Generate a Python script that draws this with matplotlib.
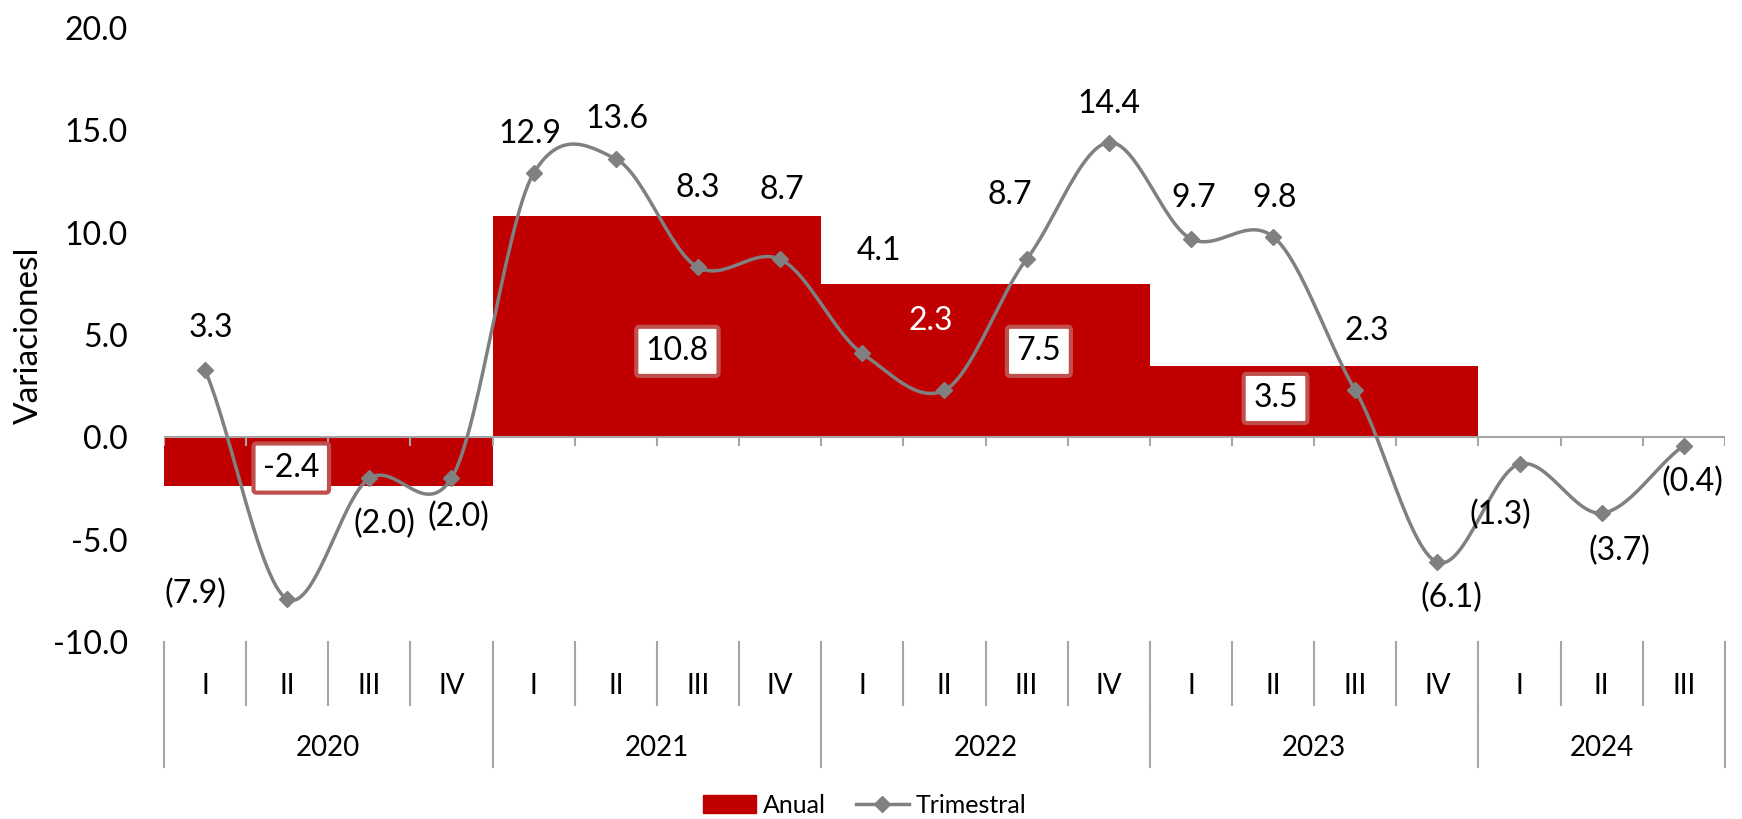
import matplotlib
matplotlib.use('Agg')
import matplotlib.pyplot as plt
import matplotlib.transforms as mtransforms
from matplotlib.lines import Line2D
from matplotlib.patches import Patch
import numpy as np

plt.rcParams['font.family'] = ['Lato', 'DejaVu Sans']
plt.rcParams['axes.unicode_minus'] = False

# quarterly and annual variations
years = ['2020', '2021', '2022', '2023', '2024']
quarters = ['I', 'II', 'III', 'IV', 'I', 'II', 'III', 'IV', 'I', 'II', 'III', 'IV',
            'I', 'II', 'III', 'IV', 'I', 'II', 'III']
quarters_per_year = [4, 4, 4, 4, 3]
trimestral = [3.3, -7.9, -2.0, -2.0, 12.9, 13.6, 8.3, 8.7, 4.1, 2.3, 8.7, 14.4,
              9.7, 9.8, 2.3, -6.1, -1.3, -3.7, -0.4]
anual = [-2.4, 10.8, 7.5, 3.5]

# label offsets (points) for the quarterly labels
lbl_off = [(4, 30), (-66, 4), (11, -33), (5, -28), (-3, 28), (1, 29), (0, 57),
           (1, 50), (12, 74), (-10, 50), (-12, 46), (0, 28), (2, 29), (1, 28),
           (8, 43), (10, -26), (-14, -37), (13, -27), (6, -26)]
# positions (data coords) of the boxed annual labels
anual_lbl_pos = [(1.05, -1.5), (5.75, 4.2), (10.15, 4.2), (13.03, 1.9)]

RED = '#C00000'
GREY = '#808080'
SEP = '#A6A6A6'
FS = 23


def smooth(y, n=30, k=0.85):
    # cubic hermite with damped catmull-rom tangents for the smoothed line
    y = np.asarray(y, float)
    m = np.zeros_like(y)
    m[1:-1] = k * (y[2:] - y[:-2]) / 2
    m[0] = k * (y[1] - y[0])
    m[-1] = k * (y[-1] - y[-2])
    xs, ys = [], []
    for i in range(len(y) - 1):
        t = np.linspace(0, 1, n, endpoint=False)
        h00 = 2 * t**3 - 3 * t**2 + 1
        h10 = t**3 - 2 * t**2 + t
        h01 = -2 * t**3 + 3 * t**2
        h11 = t**3 - t**2
        xs.append(i + t)
        ys.append(h00 * y[i] + h10 * m[i] + h01 * y[i + 1] + h11 * m[i + 1])
    xs.append([len(y) - 1])
    ys.append([y[-1]])
    return np.concatenate(xs), np.concatenate(ys)


fig = plt.figure(figsize=(17.42, 8.19), dpi=100)
ax = fig.add_axes([0.0941, 0.216, 0.8961, 0.750])

n = len(trimestral)
x = np.arange(n)

# annual bars spanning four quarters each
starts = np.cumsum([0] + quarters_per_year[:-1])
bar_x = [s + 1.5 for s in starts[:len(anual)]]
ax.bar(bar_x, anual, width=4, color=RED, zorder=1)

ax.axhline(0, color=SEP, lw=1.5, zorder=2)
for b in range(n + 1):
    ax.plot([b - 0.5, b - 0.5], [0, -0.35], color=SEP, lw=1.5, zorder=2)

sx, sy = smooth(trimestral)
ax.plot(sx, sy, color=GREY, lw=2.5, zorder=3, solid_capstyle='round')
ax.plot(x, trimestral, ls='none', marker='D', ms=8, color=GREY, zorder=4)

for i, v in enumerate(trimestral):
    txt = f'{v:.1f}' if v >= 0 else f'({abs(v):.1f})'
    col = 'white' if i == 9 else 'black'
    ax.annotate(txt, (i, v), xytext=lbl_off[i], textcoords='offset points',
                ha='center', va='center', fontsize=FS, color=col, zorder=6)

for (px, py), v in zip(anual_lbl_pos, anual):
    ax.text(px, py, f'{v:.1f}', ha='center', va='center', fontsize=FS, zorder=6,
            bbox=dict(boxstyle='round,pad=0.3,rounding_size=0.1', fc='white',
                      ec='#C0504D', lw=3))

ax.set_xlim(-0.5, n - 0.5)
ax.set_ylim(-10, 20)
ax.set_yticks(np.arange(-10, 20.1, 5))
ax.set_yticklabels([f'{t:.1f}' for t in np.arange(-10, 20.1, 5)], fontsize=FS)
ax.tick_params(axis='y', length=0, pad=26)
ax.set_xticks([])
for s in ax.spines.values():
    s.set_visible(False)
ax.set_ylabel('Variacionesl', fontsize=24, labelpad=6)

# two-level category axis below the plot
trans = mtransforms.blended_transform_factory(ax.transData, ax.transAxes)
for i, q in enumerate(quarters):
    ax.text(i, -0.0717, q, transform=trans, ha='center', va='center', fontsize=20)
for b in range(n + 1):
    ax.plot([b - 0.5, b - 0.5], [0, -0.1026], transform=trans, color=SEP,
            lw=1.5, clip_on=False)
edges = np.concatenate([[0], np.cumsum(quarters_per_year)]) - 0.5
for j, yr in enumerate(years):
    ax.text((edges[j] + edges[j + 1]) / 2, -0.173, yr, transform=trans,
            ha='center', va='center', fontsize=20)
for e in edges:
    ax.plot([e, e], [-0.1026, -0.204], transform=trans, color=SEP, lw=1.5,
            clip_on=False)

handles = [Patch(color=RED, label='Anual'),
           Line2D([], [], color=GREY, lw=2.5, marker='D', ms=8, label='Trimestral')]
fig.legend(handles=handles, loc='center', bbox_to_anchor=(0.4965, 0.017),
           ncol=2, frameon=False, fontsize=18, handlelength=2.1,
           columnspacing=1.2, handletextpad=0.3, borderpad=0)

fig.savefig('out.png', dpi=100)
